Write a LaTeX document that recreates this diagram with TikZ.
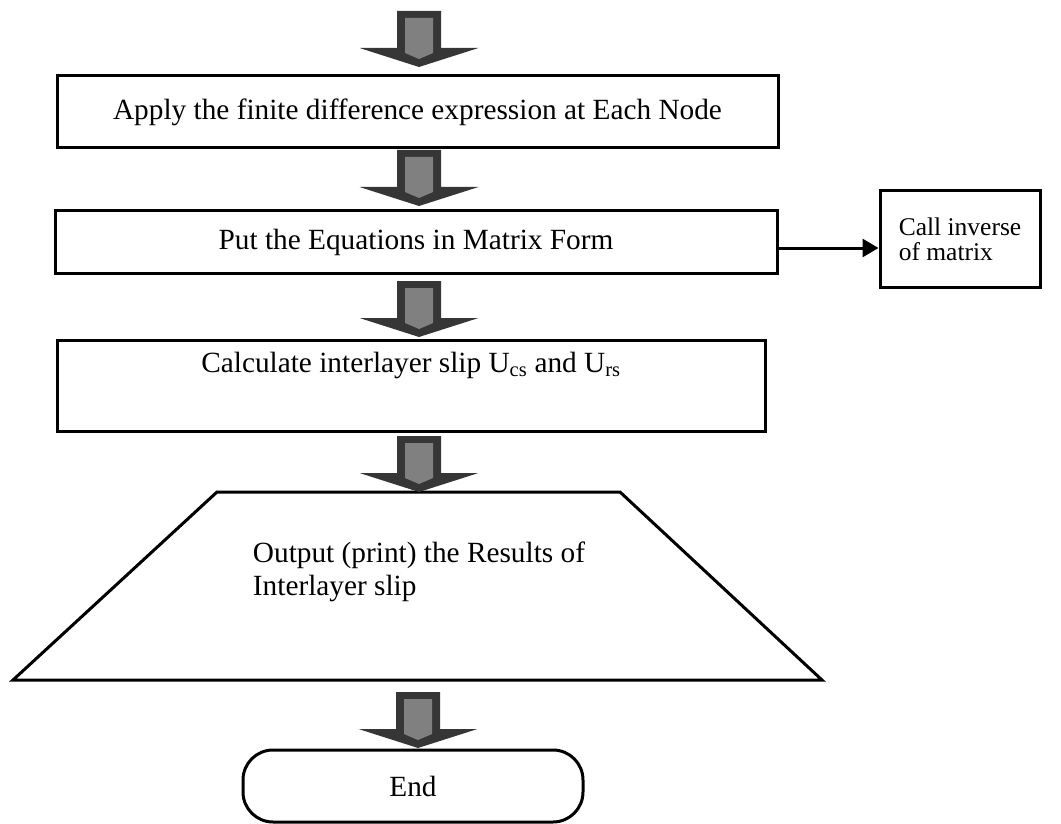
\documentclass[tikz,border=0pt]{standalone}
\usepackage{fontspec}
\setmainfont{Liberation Serif}
\usetikzlibrary{arrows.meta,positioning,calc}
\definecolor{arrdark}{RGB}{54,54,54}
\definecolor{arrlight}{RGB}{128,128,128}
\begin{document}
\begin{tikzpicture}[x=1pt,y=-1pt,>={Triangle[length=16pt,width=18pt]},
  box/.style={draw,line width=3pt,inner sep=0pt,font=\fontsize{29.3}{35}\selectfont},
  txt/.style={inner sep=0pt,font=\fontsize{29.3}{33}\selectfont},
  blockarr/.pic={
    \fill[arrdark] (-22,-56)--(22,-56)--(22,-19)--(59.5,-19)--(0,0)--(-59.5,-19)--(-22,-19)--cycle;
    \fill[arrlight] (-14,-49)--(14,-49)--(14,-14)--(0,-8)--(-14,-14)--cycle;}]
\useasboundingbox (0,0) rectangle (1061,824);
\node[box,minimum width=721pt,minimum height=72pt] (apply) at (417.5,112) {Apply the finite difference expression at Each Node};
\node[box,minimum width=722pt,minimum height=62pt] (put) at (416,242) {Put the Equations in Matrix Form};
\node[box,minimum width=160pt,minimum height=96pt,align=left,font=\fontsize{25.5}{25}\selectfont] (call) at (960,239) {Call inverse\\of matrix};
\node[box,minimum width=708pt,minimum height=91pt,align=center] (calc) at (411,385.5) {Calculate interlayer slip U\textsubscript{cs} and U\textsubscript{rs}\\\strut};
\coordinate (tl) at (217,492);\coordinate (tr) at (620,492);
\coordinate (br) at (822,680);\coordinate (bl) at (13,680);
\draw[line width=3pt,line join=miter] (tl)--(tr)--(br)--(bl)--cycle;
\node[txt,align=left] (output) at (419,571.5) {Output (print) the Results of\\Interlayer slip};
\node[box,minimum width=340pt,minimum height=72pt,rounded corners=30pt] (end) at (413,786) {End};
\draw[->,line width=3pt] ([yshift=-6pt]put.east)--([yshift=-6pt]put.east -| call.west);
\pic at (419,67) {blockarr};
\pic at (419,206) {blockarr};
\pic at (419,337) {blockarr};
\pic at (419,492) {blockarr};
\pic at (418,748) {blockarr};
\end{tikzpicture}
\end{document}
